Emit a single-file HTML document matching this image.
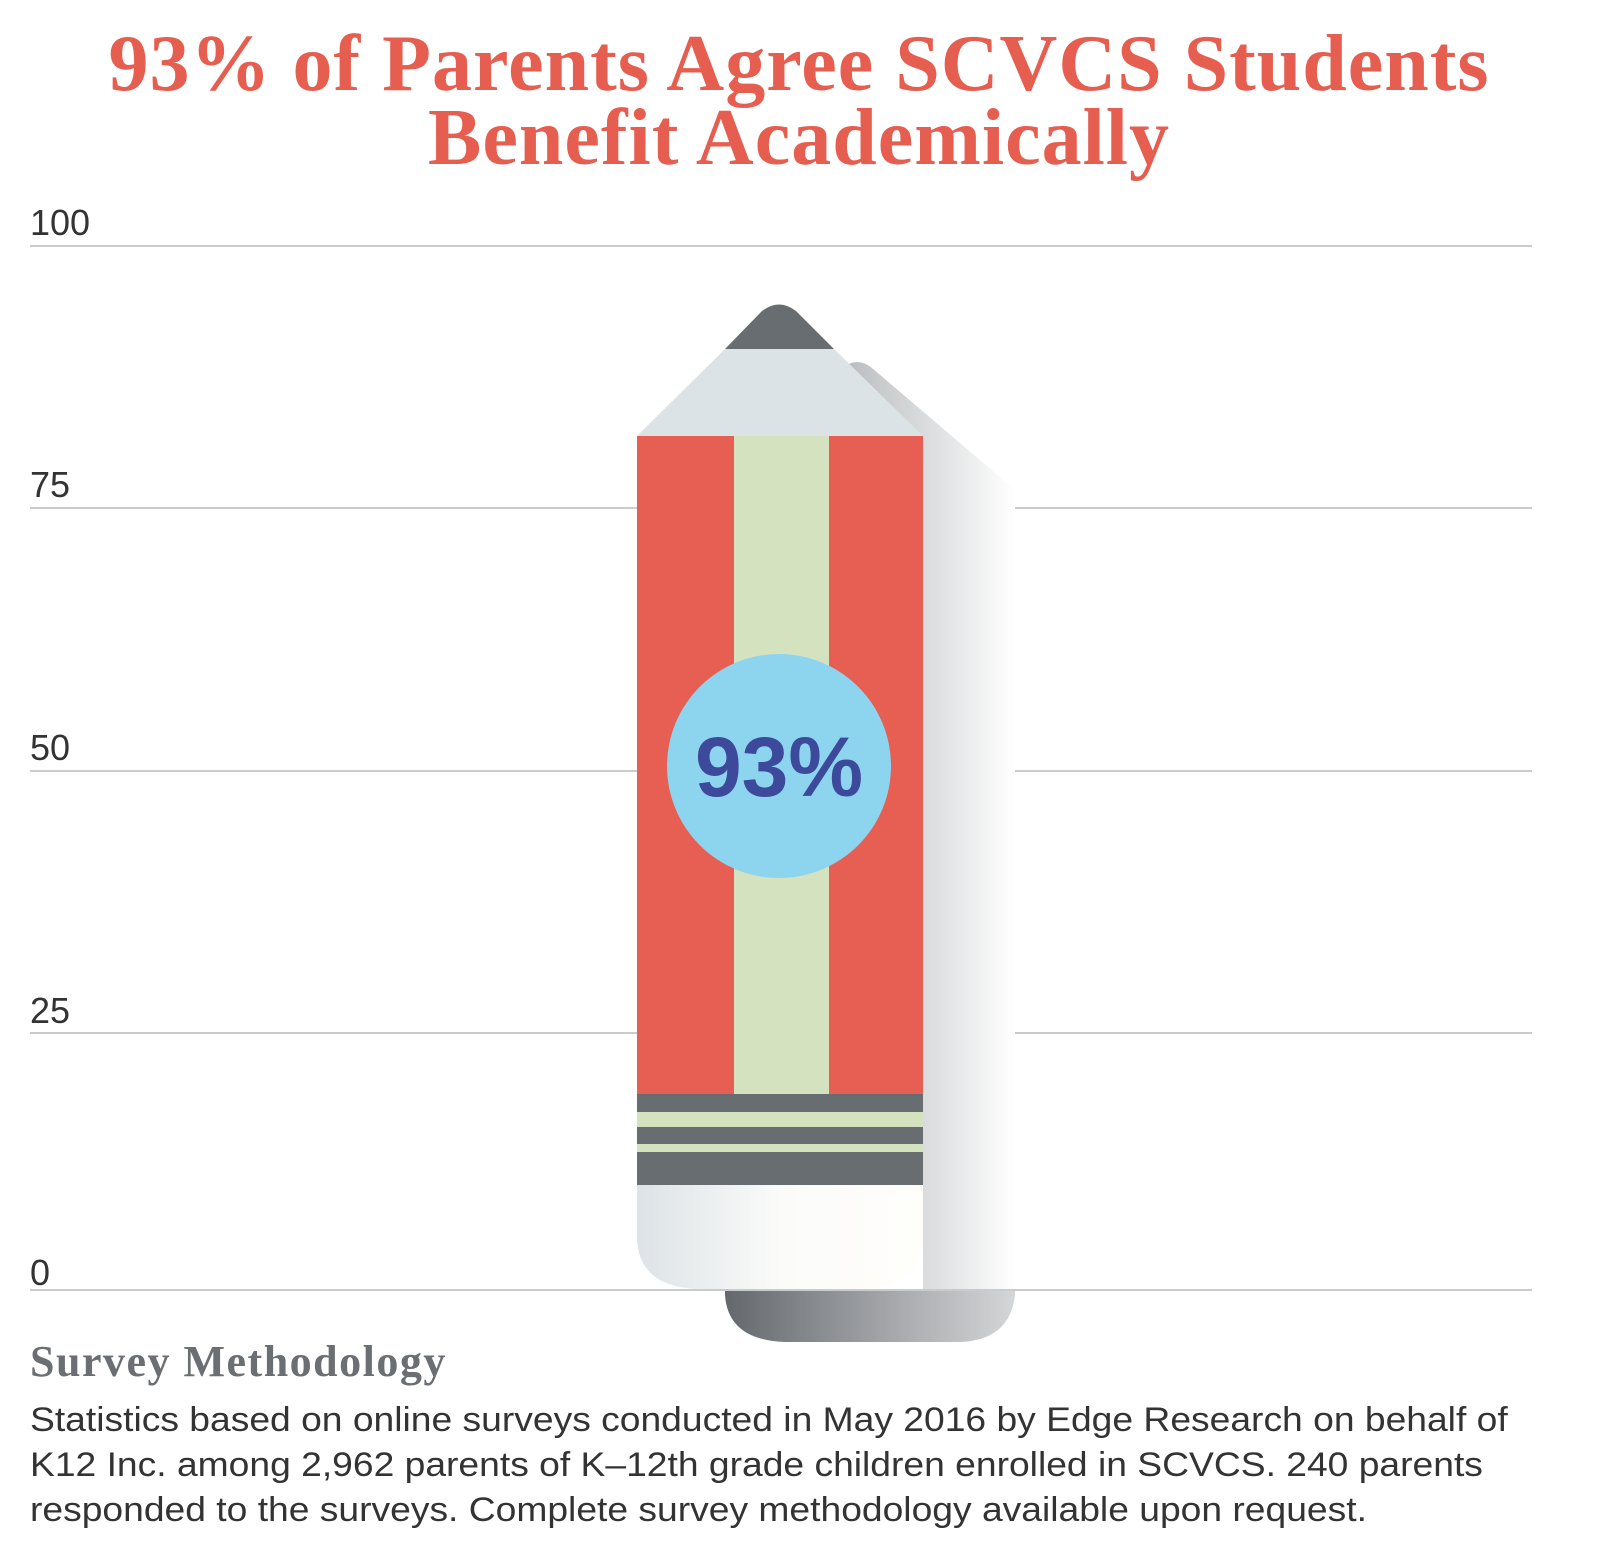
<!DOCTYPE html>
<html><head><meta charset="utf-8"><style>
body{margin:0;width:1598px;height:1566px;background:#fff;position:relative;overflow:hidden;font-family:"Liberation Sans",sans-serif}
.t{position:absolute;left:0;width:1598px;text-align:center;color:#e55e50;font-family:"Liberation Serif",serif;font-weight:bold;font-size:80px;letter-spacing:1px;line-height:1}
.lab{position:absolute;left:30px;font-size:36px;color:#333;line-height:1}
.g{position:absolute;left:30px;width:1502px;height:2px;background:#c9cbcd}
.p{position:absolute;left:30px;font-size:34px;color:#333;white-space:nowrap;line-height:1;transform:scaleX(1.095);transform-origin:0 0}
</style></head><body>
<div class="t" style="top:24px">93% of Parents Agree SCVCS Students</div>
<div class="t" style="top:98px">Benefit Academically</div>
<div class="lab" style="top:205px">100</div>
<div class="lab" style="top:467px">75</div>
<div class="lab" style="top:730px">50</div>
<div class="lab" style="top:993px">25</div>
<div class="lab" style="top:1255px">0</div>
<div class="g" style="top:245px"></div>
<div class="g" style="top:507px"></div>
<div class="g" style="top:770px"></div>
<div class="g" style="top:1032px"></div>
<svg style="position:absolute;left:0;top:0" width="1598" height="1566">
<defs>
<linearGradient id="sh" x1="0" x2="1"><stop offset="0" stop-color="#b8babd"/><stop offset="1" stop-color="#fff"/></linearGradient>
<linearGradient id="sh2" x1="0" x2="1"><stop offset="0" stop-color="#64686d"/><stop offset="1" stop-color="#d5d6d8"/></linearGradient>
<linearGradient id="er" x1="0" x2="1"><stop offset="0" stop-color="#dde3e6"/><stop offset="0.5" stop-color="#fbfbfa"/><stop offset="1" stop-color="#fffefb"/></linearGradient>
</defs>
<path d="M840,370 Q856,355 872,368 L1015,490 L1015,1290 L923,1290 L923,436 Z" fill="url(#sh)"/>
<path d="M725,1290 L1015,1290 L1015,1295 Q1010,1340 960,1342 L785,1342 Q728,1340 725,1295 Z" fill="url(#sh2)"/>
<rect x="30" y="1289" width="1502" height="2" fill="#c9cbcd"/>
<path d="M637,436 L725,349 L834,349 L923,436 Z" fill="#dce3e6"/>
<path d="M725,349 L762,311 Q779,298 796,311 L834,349 Z" fill="#686d72"/>
<rect x="637" y="436" width="286" height="658" fill="#e65f52"/>
<rect x="734" y="436" width="95" height="658" fill="#d5e2bf"/>
<rect x="637" y="1094" width="286" height="18" fill="#686d72"/>
<rect x="637" y="1112" width="286" height="15" fill="#d5e2bf"/>
<rect x="637" y="1127" width="286" height="17" fill="#686d72"/>
<rect x="637" y="1144" width="286" height="8" fill="#d5e2bf"/>
<rect x="637" y="1152" width="286" height="33" fill="#686d72"/>
<path d="M637,1185 L923,1185 L923,1240 Q920,1288 860,1289 L700,1289 Q640,1288 637,1240 Z" fill="url(#er)"/>
<circle cx="779" cy="766" r="112" fill="#8dd4ef"/>
<text x="779" y="796" text-anchor="middle" font-family="Liberation Sans,sans-serif" font-weight="bold" font-size="84" fill="#3d4a9b">93%</text>
</svg>
<div style="position:absolute;left:30px;top:1340px;font-family:'Liberation Serif',serif;font-weight:bold;font-size:44px;letter-spacing:1.5px;color:#6b6e72;line-height:1">Survey Methodology</div>
<div class="p" style="top:1403px">Statistics based on online surveys conducted in May 2016 by Edge Research on behalf of</div>
<div class="p" style="top:1448px">K12 Inc. among 2,962 parents of K–12th grade children enrolled in SCVCS. 240 parents</div>
<div class="p" style="top:1493px">responded to the surveys. Complete survey methodology available upon request.</div>
</body></html>
